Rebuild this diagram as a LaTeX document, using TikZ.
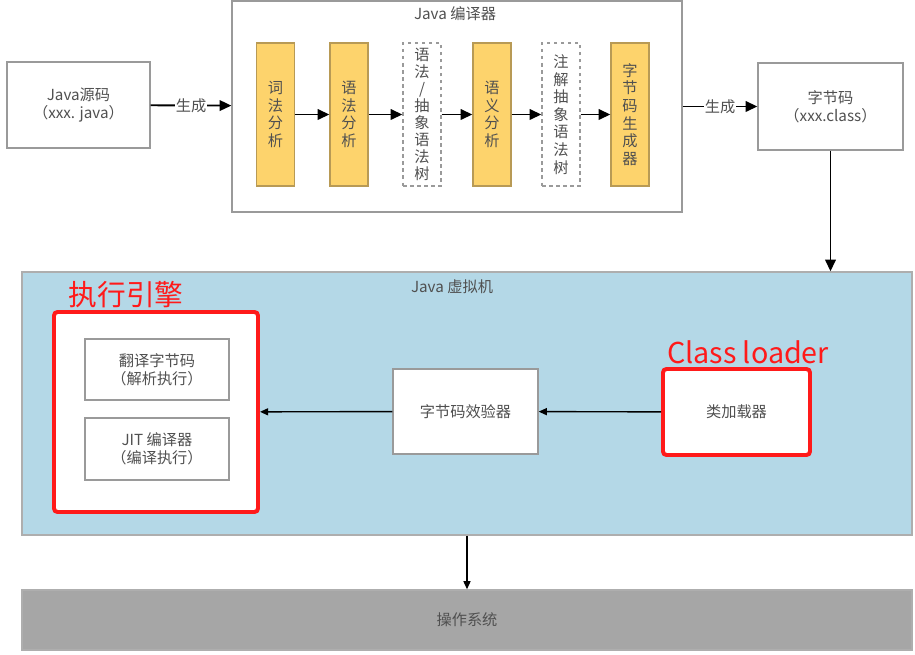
\documentclass[tikz,border=0pt]{standalone}
\usepackage{fontspec}
\setmainfont{Noto Sans CJK SC}
\usetikzlibrary{arrows.meta}

\definecolor{stageyellow}{HTML}{FDD36C}
\definecolor{stageedge}{HTML}{B89A55}
\definecolor{framegray}{HTML}{9A9A9A}
\definecolor{labelgray}{HTML}{505050}
\definecolor{jvmblue}{HTML}{B4D8E7}
\definecolor{osgray}{HTML}{A6A6A6}
\definecolor{markred}{HTML}{FF1A1A}

\def\px{0.03cm}
\newcommand\boxfont{\fontsize{13}{15}\selectfont}

\tikzset{
  plainbox/.style={draw=framegray, line width=1.1pt, fill=white,
    inner sep=0pt, align=center, text=labelgray, font=\boxfont},
  stagebox/.style={plainbox, draw=stageedge, fill=stageyellow,
    minimum width=38*\px, minimum height=143*\px},
  treebox/.style={plainbox, dashed, minimum width=38*\px, minimum height=143*\px},
  flow/.style={-{Triangle[length=10pt,width=9pt]}, line width=1.6pt},
  thinflow/.style={-{Triangle[length=7pt,width=6pt]}, line width=1.2pt},
  redframe/.style={draw=markred, line width=3.4pt, rounded corners=3pt},
  redlabel/.style={text=markred, font=\fontsize{24.5}{26}\selectfont},
}

\begin{document}
\begin{tikzpicture}[x=\px, y=-\px]
        \useasboundingbox (0,0) rectangle (915,655);
        % compiler part
        \node [plainbox, minimum width=143*\px, minimum height=86*\px]
          (source) at (78.5,105) {Java源码\\（xxx. java）};
        \node [plainbox, minimum width=450*\px, minimum height=211*\px]
          (compiler) at (457,106.5) {};
        \node [text=labelgray, font=\boxfont]
          (compiler title) at (455,14) {Java 编译器};
        \node [stagebox] (lexer)   at (275.5,114.5) {词\\法\\分\\析};
        \node [stagebox] (parser)  at (349,114.5)   {语\\法\\分\\析};
        \node [treebox, font=\fontsize{13}{14.5}\selectfont]
          (ast) at (422,114.5) {语\\法\\/\\抽\\象\\语\\法\\树};
        \node [stagebox] (sema)    at (492,114.5)   {语\\义\\分\\析};
        \node [treebox]  (annot)   at (561,114.5)   {注\\解\\抽\\象\\语\\法\\树};
        \node [stagebox] (codegen) at (630,114.5)   {字\\节\\码\\生\\成\\器};
        \node [plainbox, minimum width=145*\px, minimum height=87*\px]
          (bytecode) at (830.5,106.5) {字节码\\（xxx.class）};
        \draw [flow] (source) -- (compiler)
            node [midway, fill=white, inner sep=1pt, text=labelgray, font=\boxfont] {生成};
        \draw [flow] (lexer) -- (parser);
        \draw [flow] (parser) -- (ast);
        \draw [flow] (ast) -- (sema);
        \draw [flow] (sema) -- (annot);
        \draw [flow] (annot) -- (codegen);
        \draw [flow] (compiler.east |- bytecode) -- (bytecode)
            node [midway, fill=white, inner sep=1pt, text=labelgray, font=\boxfont] {生成};
        % virtual machine
        \node [plainbox, draw=framegray!80, fill=jvmblue, minimum width=890*\px, minimum height=263*\px]
          (jvm) at (467,403.5) {};
        \node [text=labelgray, font=\boxfont]
          (jvm title) at (452,287) {Java 虚拟机};
        \draw [flow] (bytecode.south) -- (bytecode.south |- jvm.north);
        \node [plainbox, redframe, minimum width=204*\px, minimum height=200*\px]
          (engine) at (156,412) {};
        \node [redlabel] (engine label) at (126,295) {执行引擎};
        \node [plainbox, minimum width=144*\px, minimum height=61*\px]
          (interp) at (157,369.5) {翻译字节码\\（解析执行）};
        \node [plainbox, minimum width=144*\px, minimum height=62*\px]
          (jit) at (157,449) {JIT 编译器\\（编译执行）};
        \node [plainbox, minimum width=145*\px, minimum height=85*\px]
          (verifier) at (465.5,411.5) {字节码效验器};
        \node [plainbox, redframe, minimum width=147*\px, minimum height=86*\px]
          (loader) at (736.5,412) {类加载器};
        \node [redlabel] (loader label) at (748,352) {Class loader};
        \draw [thinflow] (loader) -- (verifier);
        \draw [thinflow] (verifier) -- (engine);
        % operating system
        \node [plainbox, draw=framegray!80, fill=osgray, minimum width=890*\px, minimum height=60*\px]
          (os) at (467,620) {操作系统};
        \draw [thinflow] (jvm.south) -- (os.north);
      \end{tikzpicture}
\end{document}
